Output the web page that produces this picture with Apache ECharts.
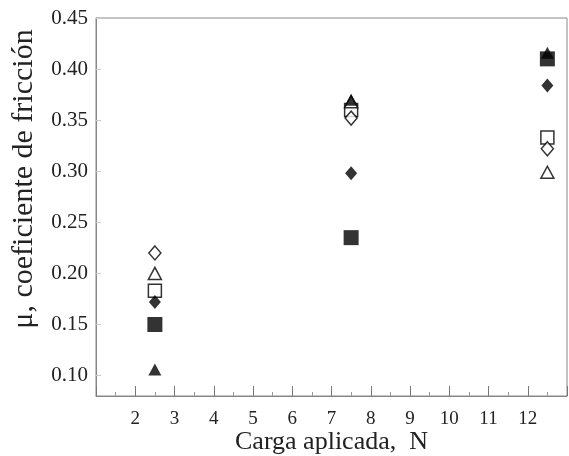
<!DOCTYPE html>
<html><head><meta charset="utf-8">
<script src="https://cdn.jsdelivr.net/npm/echarts@6/dist/echarts.min.js"></script>
<style>html,body{margin:0;padding:0;background:#fff}#c{width:569px;height:456px}</style>
</head><body><div id="c"></div>
<script>
// categories (applied load, N)
const loads = [2.5, 7.5, 12.5];
// series values (friction coefficient)
const filledSquare   = [0.150, 0.235, 0.410];
const openSquare     = [0.183, 0.360, 0.333];
const filledTriangle = [0.106, 0.370, 0.416];
const openTriangle   = [0.200, 0.368, 0.299];
const filledDiamond  = [0.172, 0.298, 0.384];
const openDiamond    = [0.220, 0.352, 0.322];
// tick labels
const xTickLabels = [2, 3, 4, 5, 6, 7, 8, 9, 10, 11, 12];
const yTickLabels = [0.10, 0.15, 0.20, 0.25, 0.30, 0.35, 0.40, 0.45];

const font = 'Liberation Serif';
function pts(vals){ return loads.map((x,i)=>[x, vals[i]]); }
function s(name, vals, symbol, filled, size){
  return {name, type:'scatter', data: pts(vals), symbol, symbolSize: size,
    itemStyle: filled ? {color:'#000'} : {color:'#fff', borderColor:'#000', borderWidth:1.5}};
}
const chart = echarts.init(document.getElementById('c'));
chart.setOption({
  animation:false,
  grid:{left:96, right:2, top:18, bottom:60, outerBoundsMode:'none', containLabel:false},
  xAxis:{type:'value', min:1, max:13, interval:1,
    name:'Carga aplicada,  N', nameLocation:'middle', nameGap:33, nameMoveOverlap:false,
    nameTextStyle:{fontFamily:font, fontSize:26, color:'#222'},
    axisLine:{lineStyle:{color:'#888', width:1}},
    axisTick:{inside:true, length:10, lineStyle:{color:'#777'}},
    minorTick:{show:true, splitNumber:2, length:4, lineStyle:{color:'#999'}},
    axisLabel:{customValues:xTickLabels, fontFamily:font, fontSize:19, color:'#222', margin:14},
    splitLine:{show:false}
  },
  yAxis:{type:'value', min:0.08, max:0.45,
    name:'μ, coeficiente de fricción', nameLocation:'middle', nameGap:57, nameMoveOverlap:false,
    nameTextStyle:{fontFamily:font, fontSize:30, color:'#222', padding:[0,0,0,56]},
    axisLine:{lineStyle:{color:'#888', width:1}},
    axisTick:{customValues:yTickLabels, inside:true, length:5, lineStyle:{color:'#ccc'}},
    axisLabel:{customValues:yTickLabels, fontFamily:font, fontSize:21, color:'#222', margin:8,
      formatter:v=>v.toFixed(2)},
    splitLine:{show:false}
  },
  graphic:[{type:'rect', shape:{x:96, y:18, width:471, height:378}, style:{fill:'none', stroke:'#888', lineWidth:1}, silent:true}],
  series:[
    s('open square', openSquare, 'rect', false, 13),
    s('open diamond', openDiamond, 'diamond', false, [12,14]),
    s('open triangle', openTriangle, 'triangle', false, [13,12]),
    s('filled square', filledSquare, 'rect', true, 15),
    s('filled diamond', filledDiamond, 'diamond', true, [12,14]),
    s('filled triangle', filledTriangle, 'triangle', true, [13,12])
  ]
});
</script></body></html>
